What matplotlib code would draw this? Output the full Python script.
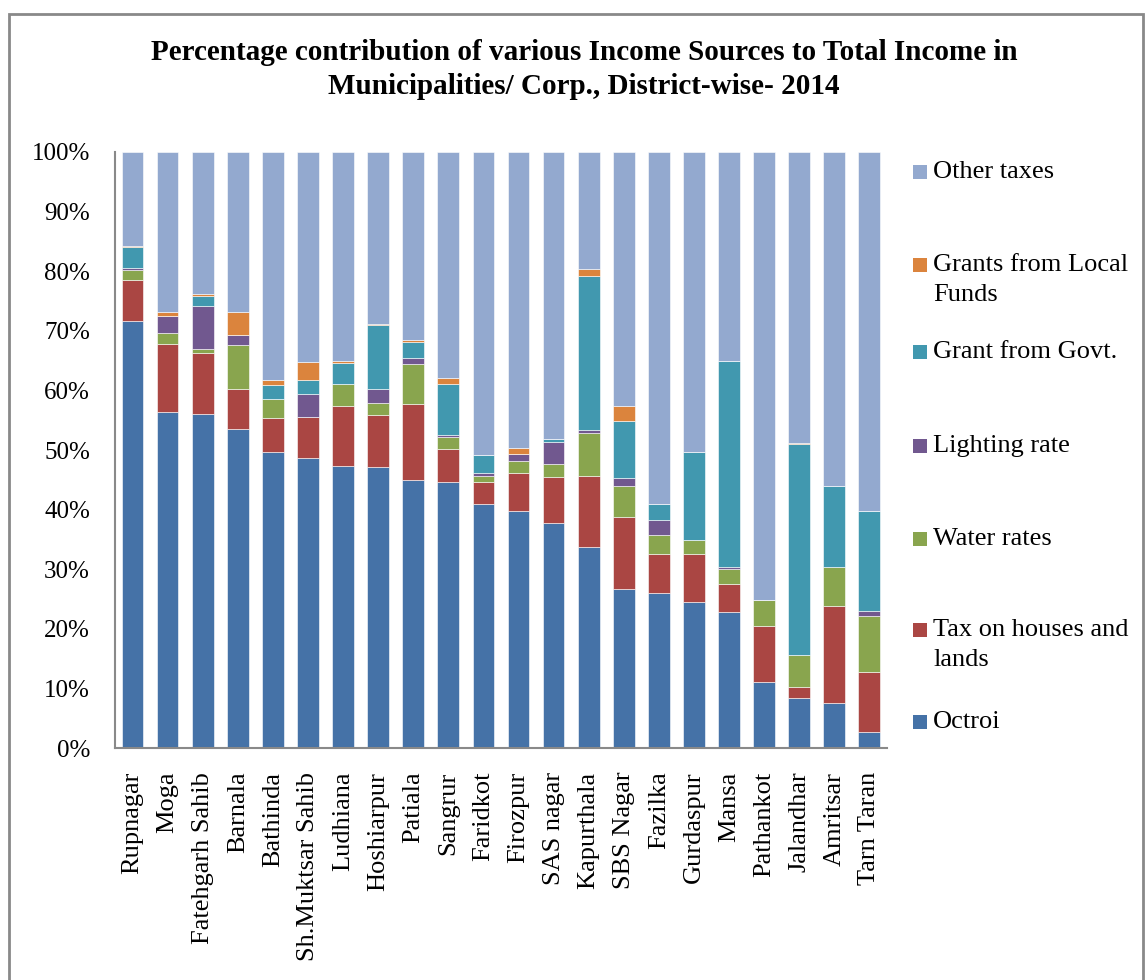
import matplotlib
matplotlib.use("Agg")
import matplotlib.pyplot as plt
from matplotlib.patches import Rectangle
import numpy as np

plt.rcParams['font.family'] = ['Liberation Serif', 'DejaVu Serif']

districts = ["Rupnagar", "Moga", "Fatehgarh Sahib", "Barnala", "Bathinda",
             "Sh.Muktsar Sahib", "Ludhiana", "Hoshiarpur", "Patiala", "Sangrur",
             "Faridkot", "Firozpur", "SAS nagar", "Kapurthala", "SBS Nagar",
             "Fazilka", "Gurdaspur", "Mansa", "Pathankot", "Jalandhar",
             "Amritsar", "Tarn Taran"]

octroi = [71.6, 56.4, 56.1, 53.5, 49.7, 48.7, 47.4, 47.1, 44.9, 44.6, 41.0,
          39.7, 37.7, 33.8, 26.7, 26.0, 24.5, 22.9, 11.1, 8.4, 7.5, 2.7]
tax_houses = [7.0, 11.4, 10.2, 6.8, 5.7, 6.8, 10.0, 8.7, 12.8, 5.5, 3.6,
              6.4, 7.8, 11.9, 12.1, 6.6, 8.1, 4.7, 9.3, 1.8, 16.4, 10.0]
water_rates = [1.6, 1.9, 0.6, 7.4, 3.2, 0.0, 3.7, 2.1, 6.8, 2.1, 1.0,
               2.0, 2.2, 7.2, 5.2, 3.1, 2.3, 2.4, 4.4, 5.4, 6.5, 9.5]
lighting_rate = [0.4, 2.8, 7.3, 1.6, 0.0, 3.9, 0.0, 2.4, 0.9, 0.4, 0.5,
                 1.2, 3.6, 0.5, 1.3, 2.5, 0.0, 0.3, 0.0, 0.0, 0.0, 0.8]
grant_govt = [3.5, 0.0, 1.7, 0.0, 2.3, 2.4, 3.5, 10.6, 2.8, 8.5, 3.0,
              0.0, 0.5, 25.8, 9.5, 2.7, 14.7, 34.6, 0.0, 35.4, 13.6, 16.8]
grants_local = [0.2, 0.7, 0.3, 3.9, 0.9, 3.0, 0.4, 0.3, 0.3, 0.9, 0.0,
                1.0, 0.1, 1.1, 2.6, 0.0, 0.0, 0.0, 0.0, 0.1, 0.0, 0.0]
other_taxes = [15.7, 26.8, 23.8, 26.8, 38.2, 35.2, 35.0, 28.8, 31.5, 38.0, 50.9,
               49.7, 48.1, 19.7, 42.6, 59.1, 50.4, 35.1, 75.2, 48.9, 56.0, 60.2]

series = [
    ("Octroi", octroi, "#4572A7"),
    ("Tax on houses and\nlands", tax_houses, "#AA4643"),
    ("Water rates", water_rates, "#89A54E"),
    ("Lighting rate", lighting_rate, "#71588F"),
    ("Grant from Govt.", grant_govt, "#4198AF"),
    ("Grants from Local\nFunds", grants_local, "#DB843D"),
    ("Other taxes", other_taxes, "#93A9CF"),
]

fig = plt.figure(figsize=(11.45, 9.8), dpi=100)
ax = fig.add_axes([0.1004, 0.2367, 0.6742, 0.6082])

x = np.arange(len(districts))
bottom = np.zeros(len(districts))
for name, vals, color in series:
    v = np.array(vals, dtype=float)
    ax.bar(x, v, width=0.62, bottom=bottom, color=color,
           edgecolor="#FFFFFF", linewidth=0.4)
    bottom += v

ax.set_xlim(-0.5, len(districts) - 0.5)
ax.set_ylim(0, 100)
ax.set_yticks(np.arange(0, 101, 10))
ax.set_yticklabels([f"{t}%" for t in range(0, 101, 10)], fontsize=18)
ax.set_xticks(x)
ax.set_xticklabels(districts, rotation=90, fontsize=19)
ax.tick_params(axis="y", length=0, pad=18)
ax.tick_params(axis="x", length=0, pad=17)
for s in ("top", "right"):
    ax.spines[s].set_visible(False)
for s in ("left", "bottom"):
    ax.spines[s].set_color("#898989")
    ax.spines[s].set_linewidth(1.5)

W, H = 1145.0, 980.0
fig.text(584 / W, 1 - 52 / H,
         "Percentage contribution of various Income Sources to Total Income in",
         ha="center", va="center", fontsize=21, fontweight="bold")
fig.text(584 / W, 1 - 86 / H,
         "Municipalities/ Corp., District-wise- 2014",
         ha="center", va="center", fontsize=21, fontweight="bold")

# legend, drawn top to bottom in reverse stacking order
legend_rows = [172, 265, 352, 446, 539, 630, 722]
for (name, vals, color), yrow in zip(series[::-1], legend_rows):
    fig.patches.append(Rectangle((913 / W, 1 - (yrow + 7) / H), 14 / W, 14 / H,
                                 transform=fig.transFigure, facecolor=color,
                                 edgecolor="none"))
    lines = name.split("\n")
    fig.text(933 / W, 1 - yrow / H, lines[0], ha="left",
             va="center", fontsize=19)
    if len(lines) > 1:
        fig.text(933 / W, 1 - (yrow + 30) / H, lines[1], ha="left",
                 va="center", fontsize=19)

# outer chart frame
fig.patches.append(Rectangle((9 / W, -0.05), (1143 - 9) / W, 1.05 - 14 / H,
                             transform=fig.transFigure, facecolor="none",
                             edgecolor="#898989", linewidth=2))

fig.savefig("out.png", dpi=100)
